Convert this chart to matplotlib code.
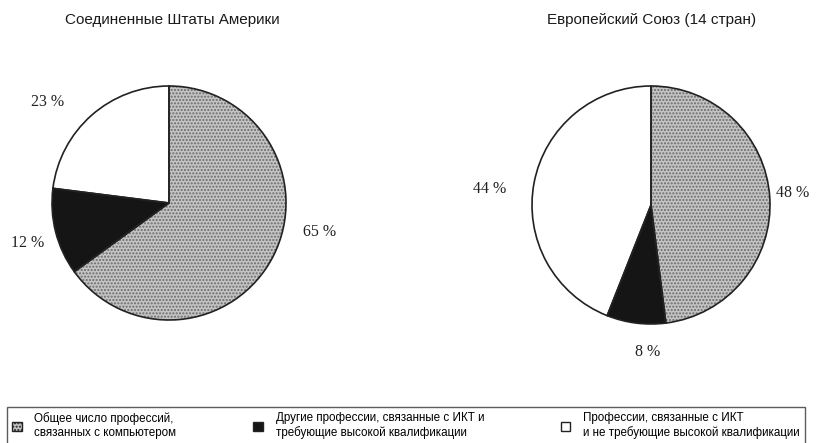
import matplotlib
matplotlib.use("Agg")
import matplotlib.pyplot as plt

# данные
titles = ["Соединенные Штаты Америки", "Европейский Союз (14 стран)"]
usa = [65, 12, 23]
eu = [48, 8, 44]
categories = ["Общее число профессий,\nсвязанных с компьютером",
              "Другие профессии, связанные с ИКТ и\nтребующие высокой квалификации",
              "Профессии, связанные с ИКТ\nи не требующие высокой квалификации"]

W, H = 818, 443
fig = plt.figure(figsize=(W / 100, H / 100), dpi=100)
ax = fig.add_axes([0, 0, 1, 1])

colors = ["#c4c4c4", "#151515", "white"]
hatches = [".....", None, None]

def draw_pie(vals, cx, cy, r):
    wedges, _ = ax.pie(vals, colors=colors, startangle=90, counterclock=False,
                       center=(cx, H - cy), radius=r,
                       wedgeprops=dict(edgecolor="#6a6a6a", linewidth=0))
    for w, h in zip(wedges, hatches):
        if h:
            w.set_hatch(h)
    # контур
    ax.pie(vals, colors=["none"] * 3, startangle=90, counterclock=False,
           center=(cx, H - cy), radius=r,
           wedgeprops=dict(edgecolor="#222222", linewidth=1.2, fill=False))
    return wedges

wedges = draw_pie(usa, 169, 203, 117)
draw_pie(eu, 651, 205, 119)

ax.set_xlim(0, W)
ax.set_ylim(0, H)
ax.set_aspect("equal")
ax.axis("off")

serif = "Liberation Serif"
sans = ["Liberation Sans"]

ax.text(172, H - 20, titles[0], ha="center", va="center", fontsize=11, family=sans, color="#1a1a1a")
ax.text(652, H - 20, titles[1], ha="center", va="center", fontsize=11, family=sans, color="#1a1a1a")

pct = [(320, 232, usa[0]), (28, 243, usa[1]), (48, 102, usa[2]),
       (793, 193, eu[0]), (648, 352, eu[1]), (490, 189, eu[2])]
for x, y, v in pct:
    ax.text(x, H - y, f"{v} %", ha="center", va="center", fontsize=11.5, family=serif, color="#222")

leg = fig.legend(wedges, categories, loc="upper left", bbox_to_anchor=(7 / W, 1 - 407 / H),
                 ncol=3, frameon=True, fancybox=False, edgecolor="#333",
                 prop=dict(family=sans, size=8.4), handlelength=0.8, handleheight=0.8,
                 columnspacing=6.6, handletextpad=1.1, borderpad=0.45, borderaxespad=0,
                 labelspacing=0.2)
leg.get_frame().set_linewidth(1.0)
for h in leg.legend_handles:
    h.set_edgecolor("#222")
    h.set_linewidth(1.0)

fig.savefig("out.png", dpi=100)
